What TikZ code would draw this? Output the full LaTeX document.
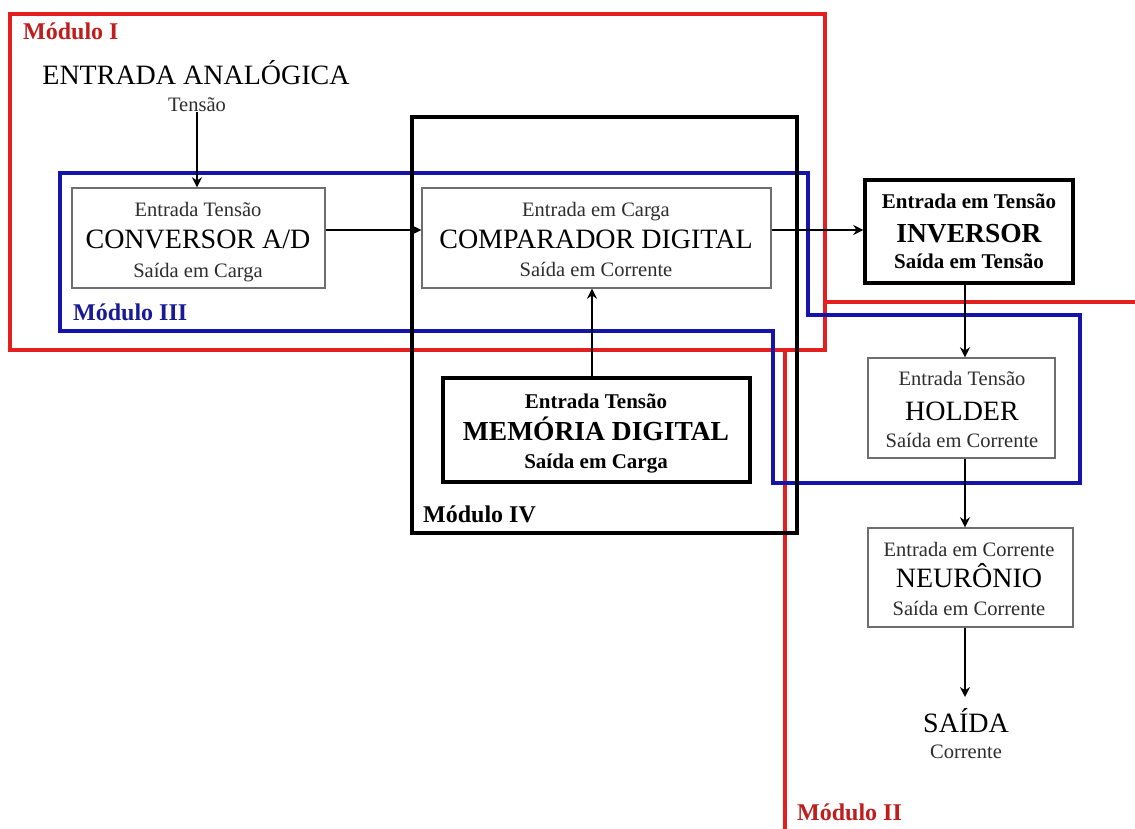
\documentclass[tikz,border=0pt]{standalone}
\usepackage{fontspec}
\setmainfont{Liberation Serif}
\usetikzlibrary{arrows.meta}
\definecolor{modred}{RGB}{226,32,32}
\definecolor{modblue}{RGB}{20,20,170}
\definecolor{boxgray}{RGB}{110,110,110}
\definecolor{txtgray}{RGB}{45,45,45}
\definecolor{labred}{RGB}{190,30,30}
\definecolor{labblue}{RGB}{25,25,150}
\begin{document}
\begin{tikzpicture}[x=1pt,y=-1pt,
 thinbox/.style={draw=boxgray,line width=1.4pt,fill=white,inner sep=0pt},
 thickbox/.style={draw=black,line width=3.4pt,fill=white,inner sep=0pt},
 sm/.style={font=\fontsize{20.5pt}{24pt}\selectfont,anchor=base,inner sep=0pt,text=txtgray},
 bg/.style={font=\fontsize{28pt}{32pt}\selectfont,anchor=base,inner sep=0pt},
 smb/.style={font=\bfseries\fontsize{21pt}{24pt}\selectfont,anchor=base,inner sep=0pt},
 bgb/.style={font=\bfseries\fontsize{27.5pt}{32pt}\selectfont,anchor=base,inner sep=0pt},
 modlab/.style={font=\bfseries\fontsize{24pt}{28pt}\selectfont,anchor=base west,inner sep=0pt},
 modline/.style={line width=3.2pt},
 arr/.style={-{Stealth[length=10pt,width=10pt]},line width=2.6pt}]

\useasboundingbox[fill=white] (0,0) rectangle (1135,829);

% module outlines
\draw[modline,draw=modred] (10,14) rectangle (825,350);
\draw[modline,draw=modred] (785,829) -- (785,350) -- (825,350) -- (825,302) -- (1135,302);
\draw[modline,draw=modblue] (60,173) -- (808,173) -- (808,315) -- (1080,315) -- (1080,483) -- (773,483) -- (773,331) -- (60,331) -- cycle;
\draw[modline,draw=black] (412,117) rectangle (797,533);

% module labels
\node[modlab,text=labred] (m1) at (23,40) {Módulo I};
\node[modlab,text=labblue] (m3) at (73,320) {Módulo III};
\node[modlab] (m4) at (423,522) {Módulo IV};
\node[modlab,text=labred] (m2) at (797,820) {Módulo II};

% boxes
\node[thinbox,minimum width=253pt,minimum height=100pt] (conv) at (198.5,238) {};
\node[thinbox,minimum width=349pt,minimum height=100pt] (comp) at (596.5,238) {};
\node[thickbox,minimum width=208pt,minimum height=103pt] (inv) at (969,231.5) {};
\node[thinbox,minimum width=187pt,minimum height=100pt] (hold) at (961.5,408) {};
\node[thinbox,minimum width=205pt,minimum height=99pt] (neur) at (970.5,577.5) {};
\node[thickbox,minimum width=307pt,minimum height=104pt] (mem) at (596.5,430) {};

% input
\node[bg] (entA) at (196,85) {ENTRADA ANALÓGICA};
\node[sm] (tens) at (197,112) {Tensão};

% converter texts
\node[sm] (convA) at (198,217) {Entrada Tensão};
\node[bg] (convB) at (198,248) {CONVERSOR A/D};
\node[sm] (convC) at (198,277) {Saída em Carga};

% comparator texts
\node[sm] (compA) at (596,217) {Entrada em Carga};
\node[bg] (compB) at (596,248) {COMPARADOR DIGITAL};
\node[sm] (compC) at (596,276) {Saída em Corrente};

% inverter texts
\node[smb] (invA) at (969,209) {Entrada em Tensão};
\node[bgb] (invB) at (969,243) {INVERSOR};
\node[smb] (invC) at (969,268) {Saída em Tensão};

% holder texts
\node[sm] (holdA) at (962,385) {Entrada Tensão};
\node[bg] (holdB) at (962,420) {HOLDER};
\node[sm] (holdC) at (962,447) {Saída em Corrente};

% neuron texts
\node[sm] (neurA) at (969,556) {Entrada em Corrente};
\node[bg] (neurB) at (969,587) {NEURÔNIO};
\node[sm] (neurC) at (969,615) {Saída em Corrente};

% memory texts
\node[smb] (memA) at (596,408) {Entrada Tensão};
\node[bgb] (memB) at (596,440) {MEMÓRIA DIGITAL};
\node[smb] (memC) at (596,468) {Saída em Carga};

% output
\node[bg] (saida) at (966,732) {SAÍDA};
\node[sm] (corr) at (966,758) {Corrente};

% helper coordinates
\coordinate (hy) at (0,230);
\coordinate (ax) at (965,0);
\coordinate (mx) at (592,0);
\coordinate (sdtop) at (965,697);

% connectors
\draw[arr] (tens.south) -- (tens.south |- conv.north);
\draw[arr] (conv.east |- hy) -- (comp.west |- hy);
\draw[arr] (comp.east |- hy) -- (inv.west |- hy);
\draw[arr] (mem.north -| mx) -- (comp.south -| mx);
\draw[arr] (inv.south -| ax) -- (hold.north -| ax);
\draw[arr] (hold.south -| ax) -- (neur.north -| ax);
\draw[arr] (neur.south -| ax) -- (sdtop);
\end{tikzpicture}
\end{document}
